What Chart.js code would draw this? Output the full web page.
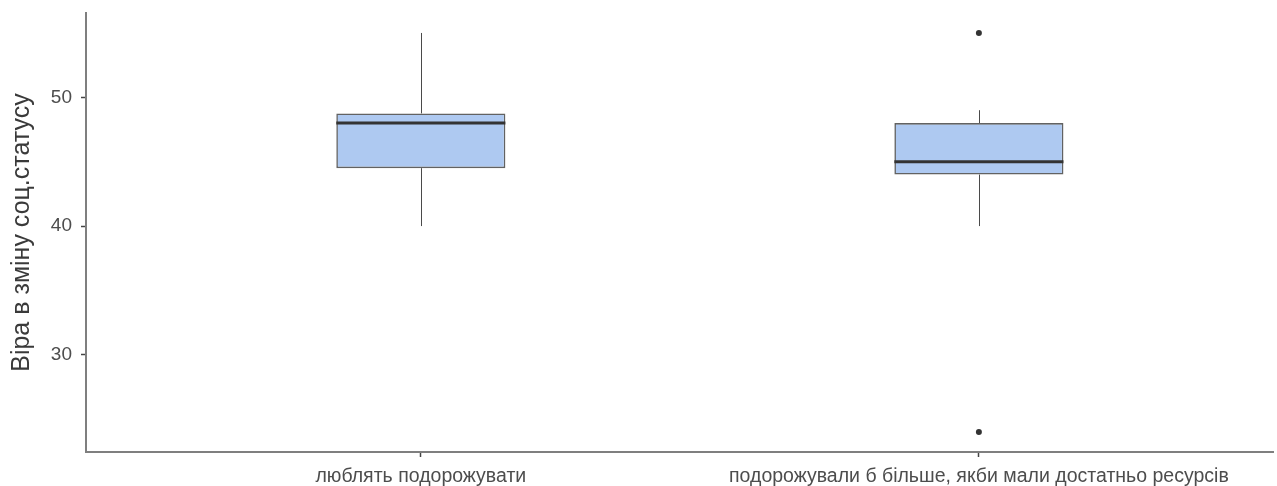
<!DOCTYPE html>
<html>
<head>
<meta charset="utf-8">
<script src="https://cdn.jsdelivr.net/npm/chart.js@4/dist/chart.umd.min.js"></script>
<style>
  html, body { margin: 0; padding: 0; background: #ffffff; }
  #wrap { width: 1277px; height: 486px; position: relative; }
</style>
</head>
<body>
<div id="wrap"><canvas id="c"></canvas></div>
<script>
// Groups and their five-number summaries
const categories = ['люблять подорожувати', 'подорожували б більше, якби мали достатньо ресурсів'];
const positions = [1, 2];
const whiskerLow = [40, 40];
const q1 = [44.5, 44];
const medians = [48, 45];
const q3 = [48.75, 48];
const whiskerHigh = [55, 49];
const outliers = [[], [55, 24]];
const yTicks = [30, 40, 50];

const boxFill = '#aec9f1';
const boxLine = '#626262';
const medianColor = '#333333';
const axisColor = '#7f7f7f';
const textColor = '#4d4d4d';
const fontFamily = 'Liberation Sans, Arial, sans-serif';

// Whiskers behind the boxes, medians on top of them
const boxDecor = {
  id: 'boxDecor',
  beforeDatasetsDraw(chart) {
    const { ctx, scales: { x, y } } = chart;
    ctx.save();
    ctx.strokeStyle = '#4a4a4a';
    ctx.lineWidth = 1;
    positions.forEach((p, i) => {
      const px = Math.round(x.getPixelForValue(p)) + 0.5;
      ctx.beginPath();
      ctx.moveTo(px, y.getPixelForValue(q3[i]));
      ctx.lineTo(px, y.getPixelForValue(whiskerHigh[i]));
      ctx.moveTo(px, y.getPixelForValue(q1[i]));
      ctx.lineTo(px, y.getPixelForValue(whiskerLow[i]));
      ctx.stroke();
    });
    ctx.restore();
  },
  afterDatasetsDraw(chart) {
    const { ctx, scales: { y } } = chart;
    const meta = chart.getDatasetMeta(0);
    ctx.save();
    ctx.strokeStyle = medianColor;
    ctx.lineWidth = 3;
    meta.data.forEach((bar, i) => {
      const half = bar.width / 2;
      const py = y.getPixelForValue(medians[i]);
      ctx.beginPath();
      ctx.moveTo(bar.x - half, py);
      ctx.lineTo(bar.x + half, py);
      ctx.stroke();
    });
    ctx.restore();
  }
};

const outlierPoints = [];
positions.forEach((p, i) => outliers[i].forEach(v => outlierPoints.push({ x: p, y: v })));

new Chart(document.getElementById('c'), {
  type: 'bar',
  data: {
    datasets: [
      {
        type: 'bar',
        data: positions.map((p, i) => ({ x: p, y: [q1[i], q3[i]] })),
        backgroundColor: boxFill,
        borderColor: boxLine,
        borderWidth: 1.6,
        borderSkipped: false,
        barPercentage: 0.303,
        categoryPercentage: 1.0,
        order: 2
      },
      {
        type: 'scatter',
        data: outlierPoints,
        pointRadius: 3,
        pointBackgroundColor: '#333333',
        pointBorderWidth: 0,
        order: 1
      }
    ]
  },
  options: {
    responsive: true,
    maintainAspectRatio: false,
    animation: false,
    layout: { padding: { top: 13, right: 0, left: 0, bottom: 0 } },
    plugins: { legend: { display: false }, tooltip: { enabled: false } },
    scales: {
      x: {
        type: 'linear',
        offset: false,
        min: 0.4,
        max: 2.527,
        afterBuildTicks(scale) { scale.ticks = positions.map(v => ({ value: v })); },
        afterFit(scale) { scale.height = 34; scale.paddingLeft = 0; scale.paddingRight = 0; },
        ticks: {
          callback: (v) => categories[positions.indexOf(v)] ?? '',
          color: textColor,
          font: { family: fontFamily, size: 19.5 },
          padding: 8,
          maxRotation: 0,
          autoSkip: false
        },
        grid: { display: true, offset: false, drawOnChartArea: false, drawTicks: true, tickLength: 5, tickColor: '#444444', tickWidth: 1.5 },
        border: { display: true, color: axisColor, width: 2 }
      },
      y: {
        min: 22.45,
        max: 56.55,
        afterBuildTicks(scale) { scale.ticks = yTicks.map(v => ({ value: v })); },
        afterFit(scale) { scale.width = 86; scale.paddingTop = 0; scale.paddingBottom = 0; },
        ticks: {
          color: textColor,
          font: { family: fontFamily, size: 19 },
          padding: 9
        },
        title: {
          display: true,
          text: 'Віра в зміну соц.статусу',
          color: '#3a3a3a',
          font: { family: fontFamily, size: 25 },
          padding: { top: 7, bottom: 0 }
        },
        grid: { display: true, drawOnChartArea: false, drawTicks: true, tickLength: 5, tickColor: '#444444', tickWidth: 1.5 },
        border: { display: true, color: axisColor, width: 2 }
      }
    }
  },
  plugins: [boxDecor]
});
</script>
</body>
</html>
